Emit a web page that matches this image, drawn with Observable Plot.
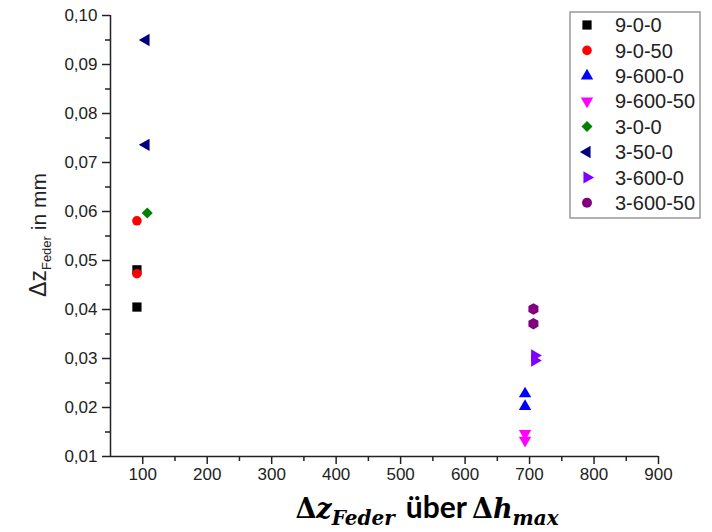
<!DOCTYPE html>
<html><head><meta charset="utf-8">
<script src="https://cdn.jsdelivr.net/npm/d3@7"></script>
<script src="https://cdn.jsdelivr.net/npm/@observablehq/plot@0.6"></script>
<style>body{margin:0;background:#fff}</style>
</head><body><div id="chart"></div>
<script>
// ---- data ----
const series = ["9-0-0","9-0-50","9-600-0","9-600-50","3-0-0","3-50-0","3-600-0","3-600-50"];
const xValues = [[91,91],[91,91],[693,693],[693,693],[107],[105,105],[708,708],[706,706]];
const yValues = [[0.0405,0.0481],[0.0473,0.0581],[0.0202,0.0228],[0.0133,0.0147],[0.0597],[0.0736,0.0950],[0.0296,0.0306],[0.0371,0.0401]];
const xTicks = [100,200,300,400,500,600,700,800,900];
const xMinor = [150,250,350,450,550,650,750,850];
const yTicks = [0.01,0.02,0.03,0.04,0.05,0.06,0.07,0.08,0.09,0.10];
const yMinor = [0.015,0.025,0.035,0.045,0.055,0.065,0.075,0.085,0.095];

// ---- styles ----
const colors = ["#000000","#ff0000","#0000ff","#ff00ff","#008000","#000080","#8000ff","#800080"];
const shapes = ["square","circle","triangle","triangle","square","triangle","triangle","hexagon"];
const rotations = [0,0,0,180,45,-90,90,0];
const radii = [5.2,4.8,4.6,4.6,4.4,4.6,4.6,5.0];

const fmtY = d => d.toFixed(2).replace(".", ",");
const axisStyle = {strokeWidth: 1.5, fill: "#222", label: null};

const dotMarks = series.map((s, i) => Plot.dot(
  yValues[i].map((y, j) => ({series: s, x: xValues[i][j], y})),
  {x: "x", y: "y", fill: colors[i], symbol: shapes[i], rotate: rotations[i], r: radii[i]}
));

const chart = Plot.plot({
  width: 712, height: 532,
  marginLeft: 110, marginRight: 54, marginTop: 15, marginBottom: 76,
  x: {domain: [50, 900]},
  y: {domain: [0.01, 0.10]},
  style: {fontFamily: "'Liberation Sans', Arial, sans-serif", fontSize: "17px", color: "#222", background: "#fff"},
  marks: [
    Plot.axisX(xTicks, {...axisStyle, tickSize: 8, tickPadding: 3, tickFormat: d => String(d)}),
    Plot.axisX(xMinor, {...axisStyle, tickSize: 5, tickFormat: () => ""}),
    Plot.axisY(yTicks, {...axisStyle, tickSize: 8, tickPadding: 5, tickFormat: fmtY}),
    Plot.axisY(yMinor, {...axisStyle, tickSize: 5, tickFormat: () => ""}),
    Plot.ruleY([0.01], {strokeWidth: 1.5, stroke: "#222"}),
    Plot.ruleX([0.01].map(() => 50), {strokeWidth: 1.5, stroke: "#222"}),
    ...dotMarks
  ]
});
document.getElementById("chart").append(chart);

const svg = d3.select(chart);

// ---- legend ----
const symTypes = {square: d3.symbolSquare, circle: d3.symbolCircle, triangle: d3.symbolTriangle, hexagon: d3.symbolHexagon};
const lg = svg.append("g").attr("text-anchor", "start");
lg.append("rect").attr("x", 570).attr("y", 12).attr("width", 130).attr("height", 206)
  .attr("fill", "#fff").attr("stroke", "#999").attr("stroke-width", 1.5);
series.forEach((s, i) => {
  const cy = 25 + i * 25.4;
  lg.append("path")
    .attr("d", d3.symbol(symTypes[shapes[i]], Math.PI * radii[i] * radii[i])())
    .attr("transform", `translate(587,${cy}) rotate(${rotations[i]})`)
    .attr("fill", colors[i]);
  lg.append("text").attr("x", 615).attr("y", cy).attr("dy", "0.36em")
    .attr("text-anchor", "start")
    .attr("font-family", "'Liberation Sans', Arial, sans-serif").attr("font-size", 20)
    .attr("fill", "#222").text(s);
});

// ---- y label ----
const yl = svg.append("text").attr("transform", "translate(46,235) rotate(-90)")
  .attr("text-anchor", "middle").attr("font-family", "'Liberation Sans', Arial, sans-serif").attr("fill", "#222");
yl.append("tspan").attr("font-size", 23).text("Δz");
yl.append("tspan").attr("font-size", 13).attr("dy", 5).text("Feder");
yl.append("tspan").attr("font-size", 21).attr("dy", -5).text(" in mm");

// ---- x title ----
const serif = "'DejaVu Serif', serif";
const xt = svg.append("text").attr("x", 427).attr("y", 518).attr("text-anchor", "middle")
  .attr("fill", "#000").attr("font-weight", "bold");
xt.append("tspan").attr("font-family", serif).attr("font-size", 27).text("Δ");
xt.append("tspan").attr("font-family", serif).attr("font-size", 27).attr("font-style", "italic").text("z");
xt.append("tspan").attr("font-family", serif).attr("font-size", 20).attr("font-style", "italic").attr("dy", 7).text("Feder");
xt.append("tspan").attr("font-family", "Lato, 'Open Sans', sans-serif").attr("font-size", 30).attr("dy", -7).attr("dx", 11).text("über");
xt.append("tspan").attr("font-family", serif).attr("font-size", 27).attr("dx", 5).text("Δ");
xt.append("tspan").attr("font-family", serif).attr("font-size", 27).attr("font-style", "italic").text("h");
xt.append("tspan").attr("font-family", serif).attr("font-size", 20).attr("font-style", "italic").attr("dy", 7).text("max");
</script>
</body></html>
